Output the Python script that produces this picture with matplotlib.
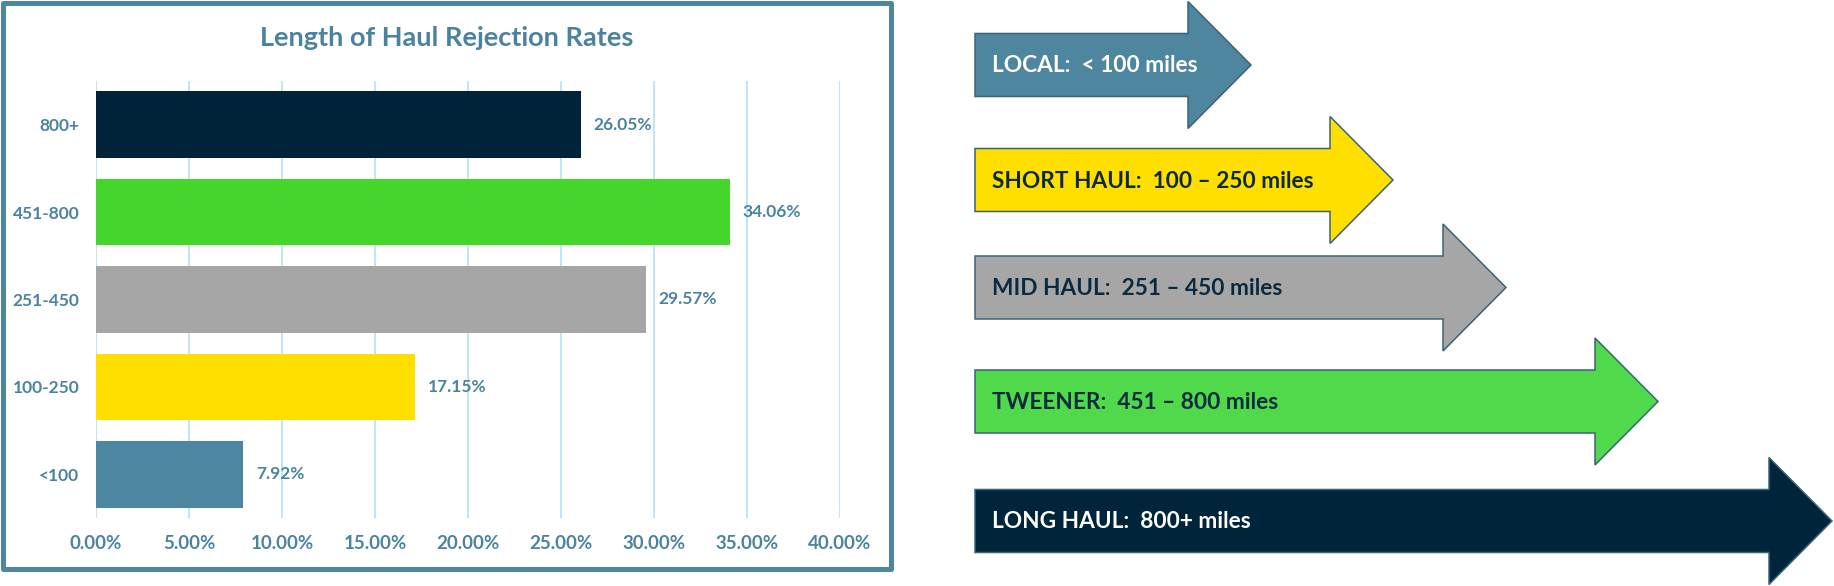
import matplotlib.pyplot as plt
from matplotlib.patches import Rectangle
from matplotlib.ticker import FuncFormatter

plt.rcParams['font.family'] = ['Lato', 'DejaVu Sans']
plt.rcParams['font.weight'] = 'bold'

# datos del grafico
categorias = ['<100', '100-250', '251-450', '451-800', '800+']
tasas = [7.92, 17.15, 29.57, 34.06, 26.05]
colores_barras = ['#4D86A1', '#FFDF00', '#A6A6A6', '#45D62C', '#002339']
ticks_x = [0, 5, 10, 15, 20, 25, 30, 35, 40]

# flechas de la derecha
etiquetas_flechas = ['LOCAL:  < 100 miles', 'SHORT HAUL:  100 \u2013 250 miles',
                     'MID HAUL:  251 \u2013 450 miles', 'TWEENER:  451 \u2013 800 miles',
                     'LONG HAUL:  800+ miles']
colores_flechas = ['#4E86A0', '#FFDF00', '#A6A6A6', '#50D94B', '#00253A']
colores_texto = ['white', '#0B2A40', '#0B2A40', '#0B2A40', 'white']

# layout (pixeles de la figura)
W, H = 1834, 586
punta_x = [1251, 1393, 1506, 1658, 1832]
centro_y = [65, 180, 287.5, 401.5, 521]
inicio_x = 975

AZUL = '#4A83A0'

fig = plt.figure(figsize=(W / 100, H / 100), dpi=100)

# capa de fondo en pixeles para marco y flechas
capa = fig.add_axes([0, 0, 1, 1])
capa.set_xlim(0, W)
capa.set_ylim(H, 0)
capa.axis('off')
capa.patch.set_alpha(0)

capa.add_patch(Rectangle((2.5, 2.5), 888, 566, fill=False, edgecolor='#4E86A0',
                         linewidth=3.6, joinstyle='round'))

for etiqueta, color, ctexto, px, cy in zip(etiquetas_flechas, colores_flechas,
                                            colores_texto, punta_x, centro_y):
    capa.arrow(inicio_x, cy, px - inicio_x, 0, width=63, head_width=127,
               head_length=63, length_includes_head=True, facecolor=color,
               edgecolor='#3B6378', linewidth=1.1, joinstyle='miter')
    capa.text(inicio_x + 17, cy + 1, etiqueta, color=ctexto, fontsize=16.3,
              fontweight='bold', ha='left', va='center')

# grafico de barras
ax = fig.add_axes([96 / W, 1 - 518 / H, (840 - 96) / W, (518 - 81) / H])
ax.barh(range(len(categorias)), tasas, height=0.76, color=colores_barras, zorder=3)
for i, v in enumerate(tasas):
    ax.annotate(f'{v:.2f}%', (v, i), xytext=(9, 0), textcoords='offset points',
                ha='left', va='center', color=AZUL, fontsize=12.5, fontweight='bold')

ax.set_xlim(0, 40)
ax.set_ylim(-0.5, len(categorias) - 0.5)
ax.set_xticks(ticks_x)
ax.xaxis.set_major_formatter(FuncFormatter(lambda x, p: f'{x:.2f}%'))
ax.set_yticks(range(len(categorias)))
ax.set_yticklabels(categorias)
ax.tick_params(axis='x', length=0, pad=12, labelsize=13.5, labelcolor=AZUL)
ax.tick_params(axis='y', length=0, pad=12, labelsize=12.5, labelcolor=AZUL)
ax.grid(axis='x', color='#BDE5F8', linewidth=1.4, zorder=0)
ax.set_axisbelow(True)
for s in ax.spines.values():
    s.set_visible(False)

fig.text(447 / W, 1 - 38 / H, 'Length of Haul Rejection Rates', ha='center', va='center',
         color=AZUL, fontsize=19.5, fontweight='bold')

fig.savefig('out.png', dpi=100)
